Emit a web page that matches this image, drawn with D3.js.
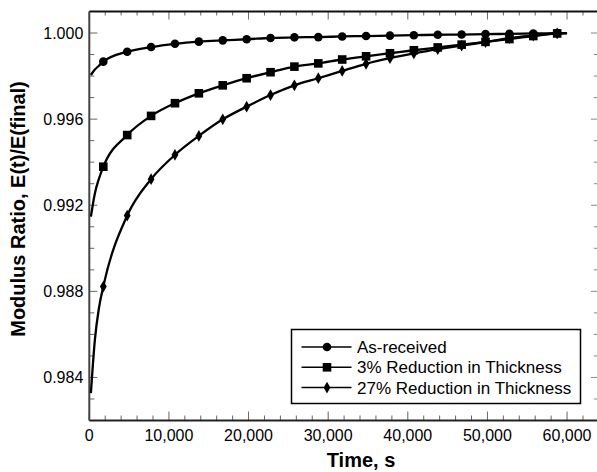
<!DOCTYPE html>
<html>
<head>
<meta charset="utf-8">
<script src="https://cdn.jsdelivr.net/npm/d3@7"></script>
<style>
  body { margin: 0; background: #fff; }
  text { font-family: "Liberation Sans", Arial, sans-serif; }
</style>
</head>
<body>
<div class="chart"></div>
<script>
// modulus ratio vs time

// DATA ---------------------------------
const markerTime = [1760, 4760, 7760, 10760, 13760, 16760, 19760, 22760, 25760, 28760,
  31760, 34760, 37760, 40760, 43760, 46760, 49760, 52760, 55760, 58760];
const earlyTime = [200, 700, 1200];
const endTime = 60000;

const asReceived = [0.99867, 0.99913, 0.99935, 0.99950, 0.99960, 0.99966, 0.99971, 0.99977, 0.99980, 0.99981,
  0.99984, 0.99986, 0.99988, 0.99990, 0.99992, 0.99993, 0.99995, 0.99996, 0.99998, 1.00000];
const asReceivedEarly = [0.99805, 0.99830, 0.99848];

const reduction3 = [0.99379, 0.99526, 0.99615, 0.99674, 0.99720, 0.99757, 0.99790, 0.99818, 0.99844, 0.99859,
  0.99877, 0.99892, 0.99906, 0.99920, 0.99933, 0.99946, 0.99959, 0.99972, 0.99986, 0.99998];
const reduction3Early = [0.99147, 0.99255, 0.99322];

const reduction27 = [0.98822, 0.99152, 0.99321, 0.99434, 0.99522, 0.99599, 0.99658, 0.99712, 0.99757, 0.99790,
  0.99824, 0.99857, 0.99883, 0.99905, 0.99925, 0.99942, 0.99958, 0.99976, 0.99988, 0.99998];
const reduction27Early = [0.98327, 0.98575, 0.98720];

const endValue = [1.0000, 1.0000, 1.0000];
const seriesNames = ["As-received", "3% Reduction in Thickness", "27% Reduction in Thickness"];
const seriesSymbols = ["circle", "square", "diamond"];

const xMajorTicks = [0, 10000, 20000, 30000, 40000, 50000, 60000];
const yMajorTicks = [0.984, 0.988, 0.992, 0.996, 1.000];

// CHART INIT ---------------------------
const W = 597, H = 472;
const margin = {top: 11.5, left: 89.3};
const width = 509.6;
const height = 409;

const svg = d3.select('.chart')
    .append('svg')
    .attr('width', W)
    .attr('height', H);

const g = svg.append('g')
    .attr('transform', `translate(${margin.left},${margin.top})`);

const xScale = d3.scaleLinear().domain([0, 64000]).range([0, width]);
const yScale = d3.scaleLinear().domain([0.982, 1.001]).range([height, 0]);

const xMinor = d3.range(0, 64001, 2000);
const yMinor = d3.range(0, 20).map(i => +(0.982 + i * 0.001).toFixed(3));

// ticks (inward on all four sides)
const tickColor = '#666';
function isMajorX(v) { return v % 10000 === 0; }
function isMajorY(v) { return yMajorTicks.some(m => Math.abs(m - v) < 1e-7); }

g.selectAll('.tick-bottom').data(xMinor).enter().append('line')
    .attr('x1', d => xScale(d)).attr('x2', d => xScale(d))
    .attr('y1', height).attr('y2', d => height - (isMajorX(d) ? 9 : 5))
    .attr('stroke', tickColor).attr('stroke-width', 1);
g.selectAll('.tick-top').data(xMinor).enter().append('line')
    .attr('x1', d => xScale(d)).attr('x2', d => xScale(d))
    .attr('y1', 0).attr('y2', d => (isMajorX(d) ? 8 : 4))
    .attr('stroke', tickColor).attr('stroke-width', 1);
g.selectAll('.tick-left').data(yMinor).enter().append('line')
    .attr('y1', d => yScale(d)).attr('y2', d => yScale(d))
    .attr('x1', 0).attr('x2', d => (isMajorY(d) ? 8 : 5))
    .attr('stroke', tickColor).attr('stroke-width', 1);
g.selectAll('.tick-right').data(yMinor).enter().append('line')
    .attr('y1', d => yScale(d)).attr('y2', d => yScale(d))
    .attr('x1', width + 2).attr('x2', d => width - (isMajorY(d) ? 8 : 5))
    .attr('stroke', '#888').attr('stroke-width', 1);

// frame (right edge falls outside the picture)
g.append('line').attr('x1', 0).attr('x2', width + 2).attr('y1', 0).attr('y2', 0)
    .attr('stroke', '#111').attr('stroke-width', 2);
g.append('line').attr('x1', 0).attr('x2', width + 2).attr('y1', height).attr('y2', height)
    .attr('stroke', '#222').attr('stroke-width', 2);
g.append('line').attr('x1', 0).attr('x2', 0).attr('y1', 0).attr('y2', height)
    .attr('stroke', '#444').attr('stroke-width', 2);

// tick labels
g.selectAll('.xlab').data(xMajorTicks).enter().append('text')
    .attr('x', d => xScale(d))
    .attr('y', height + 20)
    .attr('text-anchor', 'middle')
    .attr('font-size', '16px')
    .attr('fill', '#000')
    .text(d => d3.format(',')(d));

g.selectAll('.ylab').data(yMajorTicks).enter().append('text')
    .attr('x', -6)
    .attr('y', d => yScale(d))
    .attr('dy', '0.36em')
    .attr('text-anchor', 'end')
    .attr('font-size', '16px')
    .attr('fill', '#000')
    .text(d => d3.format('.3f')(d));

// axis titles
svg.append('text')
    .attr('x', 361).attr('y', 467)
    .attr('text-anchor', 'middle')
    .attr('font-size', '20px')
    .attr('font-weight', 'bold')
    .text('Time, s');

svg.append('text')
    .attr('transform', 'translate(25,209) rotate(-90)')
    .attr('text-anchor', 'middle')
    .attr('font-size', '20px')
    .attr('font-weight', 'bold')
    .text('Modulus Ratio, E(t)/E(final)');

// SERIES -------------------------------
const seriesData = [
  {values: asReceived, early: asReceivedEarly},
  {values: reduction3, early: reduction3Early},
  {values: reduction27, early: reduction27Early}
].map((s, i) => ({
  name: seriesNames[i],
  symbol: seriesSymbols[i],
  markers: markerTime.map((t, j) => ({t: t, v: s.values[j]})),
  line: earlyTime.map((t, j) => ({t: t, v: s.early[j]}))
    .concat(markerTime.map((t, j) => ({t: t, v: s.values[j]})))
    .concat([{t: endTime, v: endValue[i]}])
}));

const line = d3.line()
    .x(d => xScale(d.t))
    .y(d => yScale(d.v))
    .curve(d3.curveMonotoneX);

const symbolFor = {
  circle: d3.symbol().type(d3.symbolCircle).size(58),
  square: d3.symbol().type(d3.symbolSquare).size(74),
  diamond: d3.symbol().type(d3.symbolDiamond).size(40)
};

seriesData.forEach(s => {
  g.append('path')
      .datum(s.line)
      .attr('d', line)
      .attr('fill', 'none')
      .attr('stroke', '#000')
      .attr('stroke-width', 2.3);
});

seriesData.forEach(s => {
  g.selectAll('.m-' + s.symbol)
      .data(s.markers)
      .enter()
      .append('path')
      .attr('transform', d => `translate(${xScale(d.t)},${yScale(d.v)})`)
      .attr('d', symbolFor[s.symbol])
      .attr('fill', '#000');
});

// LEGEND -------------------------------
const legend = svg.append('g').attr('transform', 'translate(291.5,329.5)');
legend.append('rect')
    .attr('width', 289)
    .attr('height', 74)
    .attr('fill', '#fff')
    .attr('stroke', '#000')
    .attr('stroke-width', 1.5);

seriesData.forEach((s, i) => {
  const yy = 17.5 + i * 20.3;
  legend.append('line')
      .attr('x1', 10).attr('x2', 60).attr('y1', yy).attr('y2', yy)
      .attr('stroke', '#000').attr('stroke-width', 1.5);
  legend.append('path')
      .attr('transform', `translate(35.5,${yy})`)
      .attr('d', symbolFor[s.symbol])
      .attr('fill', '#000');
  legend.append('text')
      .attr('x', 65.5)
      .attr('y', yy)
      .attr('dy', '0.36em')
      .attr('font-size', '17px')
      .text(s.name);
});
</script>
</body>
</html>
